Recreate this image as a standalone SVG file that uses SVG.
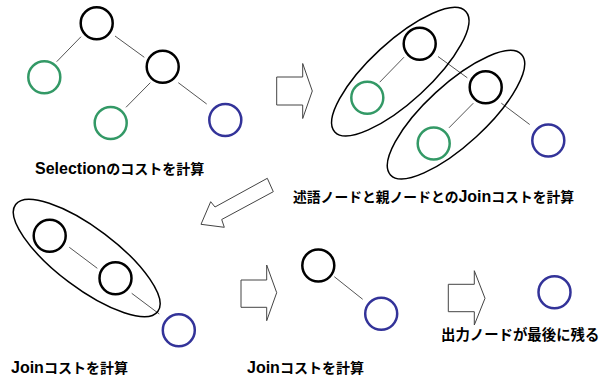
<svg xmlns="http://www.w3.org/2000/svg" width="603" height="381" viewBox="0 0 603 381">
  <style>
    .node { fill: #ffffff; stroke-width: 2.5; }
    .inner { stroke: #000000; }
    .pred { stroke: #339966; }
    .out { stroke: #333399; }
    .edge { stroke: #555555; stroke-width: 1; fill: none; }
    .group { fill: none; stroke: #000000; stroke-width: 1.5; }
    .step { fill: #ffffff; stroke: #444444; stroke-width: 1; stroke-linejoin: miter; }
    .label { font-family: "Liberation Sans", Arial, sans-serif; font-weight: bold; font-size: 16px; fill: #000000; }
    .ja { font-family: "Noto Sans CJK JP", "Noto Sans", sans-serif; font-weight: bold; font-size: 14px; }
  </style>

  <!-- tree edges for every step -->
  <g id="connectors">
    <line class="edge" x1="81" y1="36.7" x2="56.7" y2="61.7"/>
    <line class="edge" x1="115" y1="36" x2="144.3" y2="57.3"/>
    <line class="edge" x1="150.3" y1="82.7" x2="126" y2="107.3"/>
    <line class="edge" x1="178.3" y1="82.7" x2="206.7" y2="104"/>

    <line class="edge" x1="404" y1="57.2" x2="379.7" y2="82.2"/>
    <line class="edge" x1="438" y1="56.5" x2="467.3" y2="77.8"/>
    <line class="edge" x1="473.3" y1="103.2" x2="449" y2="127.8"/>
    <line class="edge" x1="501.3" y1="103.2" x2="529.7" y2="124.5"/>

    <line class="edge" x1="69.3" y1="247.3" x2="97.3" y2="268.3"/>
    <line class="edge" x1="131.7" y1="293.3" x2="159.3" y2="314"/>

    <line class="edge" x1="334.3" y1="276.7" x2="362.7" y2="299.3"/>
  </g>

  <!-- step 1: full query tree -->
  <g id="t1-root"><circle class="node inner" cx="96.7" cy="23.3" r="16"/></g>
  <g id="t1-pred1"><circle class="node pred" cx="44.3" cy="77.3" r="16"/></g>
  <g id="t1-join"><circle class="node inner" cx="162.7" cy="66.7" r="16"/></g>
  <g id="t1-pred2"><circle class="node pred" cx="110.7" cy="123" r="16"/></g>
  <g id="t1-out"><circle class="node out" cx="225.3" cy="120" r="16"/></g>
  <g id="label-selection">
    <text class="label" x="35" y="174">Selection<tspan class="ja">のコストを計算</tspan></text>
  </g>

  <g id="step-arrow-1">
    <polygon class="step" points="276.7,77 302.7,77 302.7,63.5 312.3,91 302.7,118.5 302.7,105 276.7,105"/>
  </g>

  <!-- step 2: predicate nodes merged into their parents -->
  <g id="t2-group1"><ellipse class="group" cx="400.3" cy="71.7" rx="89" ry="30" transform="rotate(-42.6 400.3 71.7)"/></g>
  <g id="t2-group2"><ellipse class="group" cx="456" cy="114.7" rx="89" ry="30" transform="rotate(-42.6 456 114.7)"/></g>
  <g id="t2-root"><circle class="node inner" cx="419.7" cy="43.8" r="16"/></g>
  <g id="t2-pred1"><circle class="node pred" cx="367.3" cy="97.8" r="16"/></g>
  <g id="t2-join"><circle class="node inner" cx="485.7" cy="87.2" r="16"/></g>
  <g id="t2-pred2"><circle class="node pred" cx="433.7" cy="143.5" r="16"/></g>
  <g id="t2-out"><circle class="node out" cx="548.3" cy="140.5" r="16"/></g>
  <g id="label-pred-join">
    <text class="label" x="293" y="202"><tspan class="ja" style="font-size:13.8px">述語ノードと親ノードとの</tspan>Join<tspan class="ja" style="font-size:13.8px">コストを計算</tspan></text>
  </g>

  <g id="step-arrow-2">
    <polygon class="step" points="267.3,178.3 273.3,191.7 221.7,219.5 224.3,227.3 201,224.3 210.7,201.7 215,207"/>
  </g>

  <!-- step 3: join of the two inner nodes -->
  <g id="t3-group"><ellipse class="group" cx="86.7" cy="258" rx="89" ry="30" transform="rotate(37 86.7 258)"/></g>
  <g id="t3-root"><circle class="node inner" cx="49.7" cy="235.8" r="16"/></g>
  <g id="t3-join"><circle class="node inner" cx="115.5" cy="278.3" r="16"/></g>
  <g id="t3-out"><circle class="node out" cx="178.8" cy="330.3" r="16"/></g>
  <g id="label-join-1">
    <text class="label" x="11" y="373">Join<tspan class="ja">コストを計算</tspan></text>
  </g>

  <g id="step-arrow-3">
    <polygon class="step" points="241,280 266.7,280 266.7,265 276.7,292.7 266.7,320.7 266.7,307.3 241,307.3"/>
  </g>

  <!-- step 4: last join -->
  <g id="t4-root"><circle class="node inner" cx="318.3" cy="265.5" r="16"/></g>
  <g id="t4-out"><circle class="node out" cx="381.2" cy="313.8" r="16"/></g>
  <g id="label-join-2">
    <text class="label" x="247" y="373">Join<tspan class="ja">コストを計算</tspan></text>
  </g>

  <g id="step-arrow-4">
    <polygon class="step" points="448.3,284.3 474.3,284.3 474.3,270.7 485,298.3 474.3,325 474.3,311.7 448.3,311.7"/>
  </g>

  <!-- result: only the output node remains -->
  <g id="t5-out"><circle class="node out" cx="554.5" cy="292.2" r="16"/></g>
  <g id="label-result">
    <text class="label ja" x="441" y="340" style="font-size:14.4px">出力ノードが最後に残る</text>
  </g>
</svg>
